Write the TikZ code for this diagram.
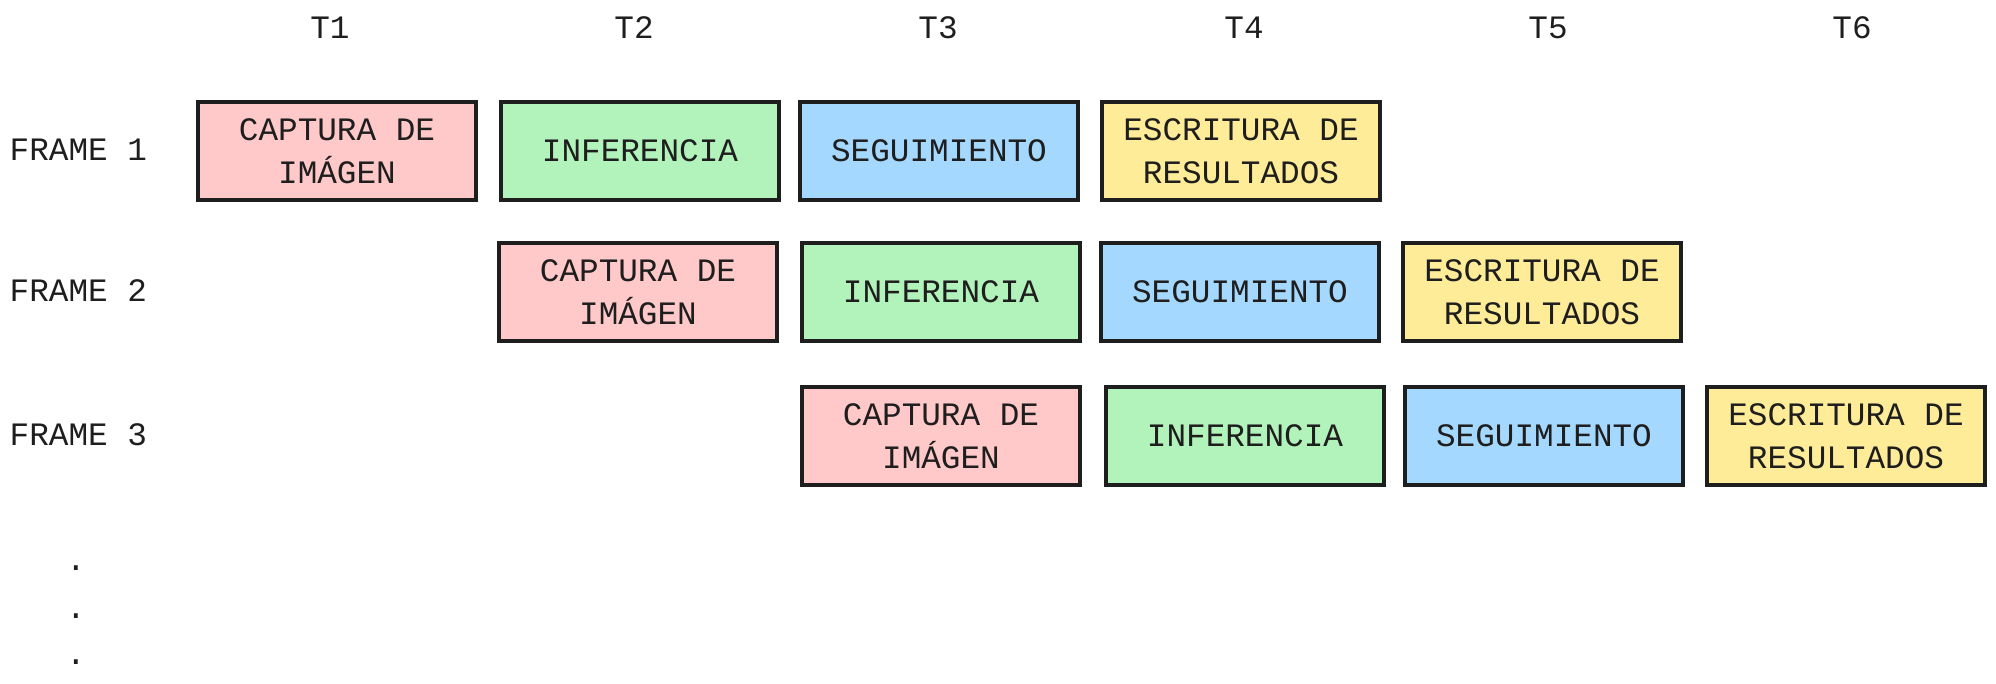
\documentclass[tikz,border=0pt]{standalone}
\usepackage{fontspec}
\setmainfont{Liberation Mono}
\definecolor{inkline}{HTML}{1E1E1E}
\definecolor{capfill}{HTML}{FFC9C9}
\definecolor{inffill}{HTML}{B2F2BB}
\definecolor{segfill}{HTML}{A5D8FF}
\definecolor{escfill}{HTML}{FFEC99}

\begin{document}
\begin{tikzpicture}[
    stage/.style={rectangle, draw=inkline, line width=1.1pt, minimum width=2.78cm, minimum height=0.98cm, align=center, inner sep=0pt, font=\fontsize{9.3}{12.2}\selectfont, text=inkline},
    tlabel/.style={font=\fontsize{9.3}{12}\selectfont, text=inkline},
    flabel/.style={anchor=west, inner sep=0pt, font=\fontsize{9.3}{12}\selectfont, text=inkline}
]
    \useasboundingbox (0,0) rectangle (19.96,-6.83);

    % Time steps
    \node[tlabel] (t1) at (3.30,-0.28) {T1};
    \node[tlabel] (t2) at (6.34,-0.28) {T2};
    \node[tlabel] (t3) at (9.38,-0.28) {T3};
    \node[tlabel] (t4) at (12.44,-0.28) {T4};
    \node[tlabel] (t5) at (15.48,-0.28) {T5};
    \node[tlabel] (t6) at (18.52,-0.28) {T6};

    % Frame labels
    \node[flabel] (f1) at (0.09,-1.50) {FRAME 1};
    \node[flabel] (f2) at (0.09,-2.91) {FRAME 2};
    \node[flabel] (f3) at (0.09,-4.35) {FRAME 3};

    % Frame 1
    \node[stage, fill=capfill] (c1) at (3.37,-1.51) {CAPTURA DE\\IMÁGEN};
    \node[stage, fill=inffill] (i1) at (6.40,-1.51) {INFERENCIA};
    \node[stage, fill=segfill] (s1) at (9.39,-1.51) {SEGUIMIENTO};
    \node[stage, fill=escfill] (e1) at (12.41,-1.51) {ESCRITURA DE\\RESULTADOS};

    % Frame 2
    \node[stage, fill=capfill] (c2) at (6.38,-2.92) {CAPTURA DE\\IMÁGEN};
    \node[stage, fill=inffill] (i2) at (9.41,-2.92) {INFERENCIA};
    \node[stage, fill=segfill] (s2) at (12.40,-2.92) {SEGUIMIENTO};
    \node[stage, fill=escfill] (e2) at (15.42,-2.92) {ESCRITURA DE\\RESULTADOS};

    % Frame 3
    \node[stage, fill=capfill] (c3) at (9.41,-4.36) {CAPTURA DE\\IMÁGEN};
    \node[stage, fill=inffill] (i3) at (12.45,-4.36) {INFERENCIA};
    \node[stage, fill=segfill] (s3) at (15.44,-4.36) {SEGUIMIENTO};
    \node[stage, fill=escfill] (e3) at (18.46,-4.36) {ESCRITURA DE\\RESULTADOS};

    % More frames
    \node[tlabel, anchor=base] (d1) at (0.76,-5.70) {.};
    \node[tlabel, anchor=base] (d2) at (0.76,-6.18) {.};
    \node[tlabel, anchor=base] (d3) at (0.76,-6.64) {.};
\end{tikzpicture}
\end{document}
